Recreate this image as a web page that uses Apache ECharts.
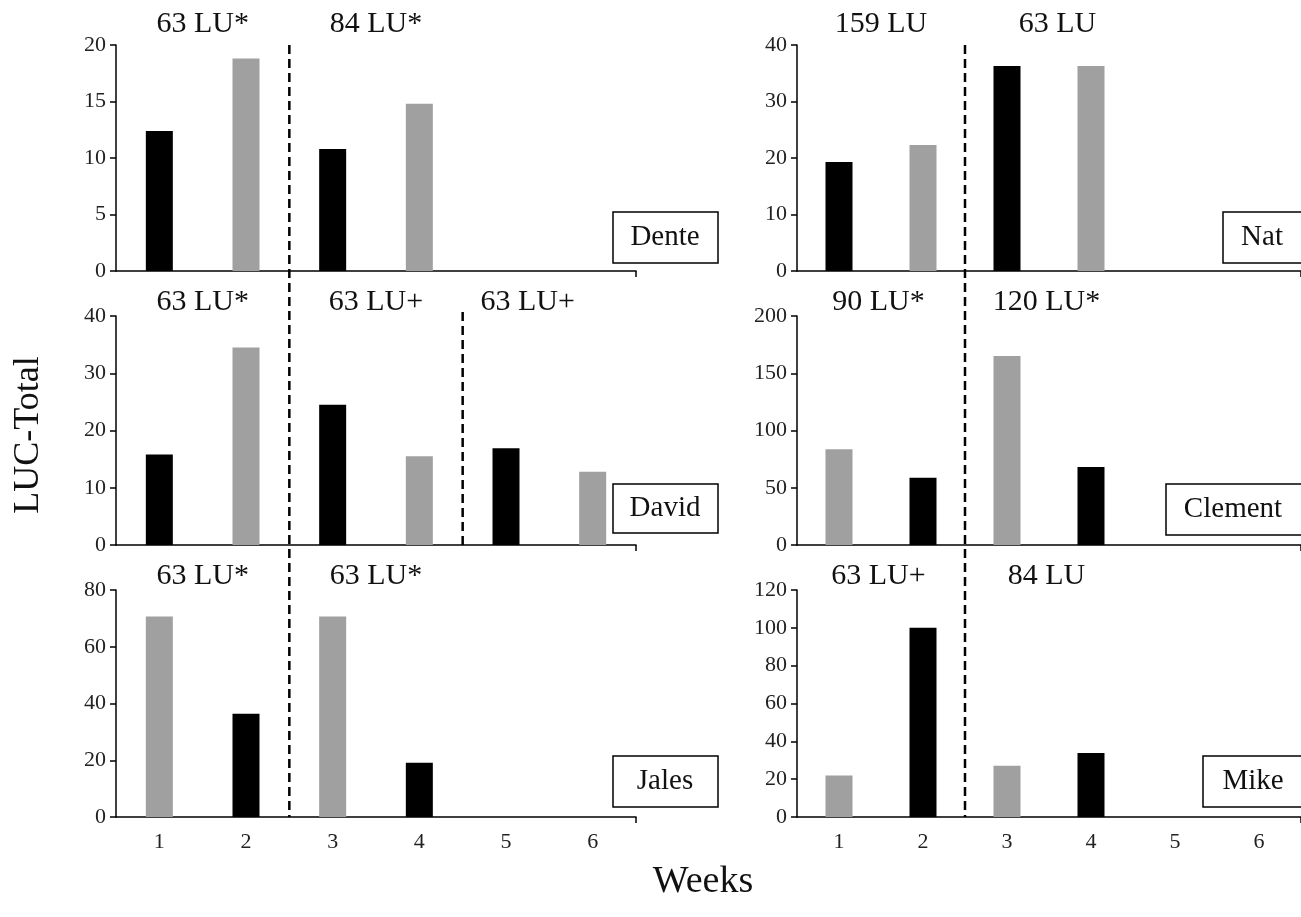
<!DOCTYPE html>
<html>
<head>
<meta charset="utf-8">
<script src="https://cdn.jsdelivr.net/npm/echarts@6/dist/echarts.min.js"></script>
<style>
  html, body { margin: 0; padding: 0; background: #fff; }
  #main { width: 1301px; height: 917px; }
</style>
</head>
<body>
<div id="main"></div>
<script>
// weeks on the x axis
var weeks = ['1', '2', '3', '4', '5', '6'];

// LUC-Total per week, black and grey bars
var denteBlack = [12.4, null, 10.8, null, null, null];
var denteGray = [null, 18.8, null, 14.8, null, null];
var natBlack = [19.3, null, 36.3, null, null, null];
var natGray = [null, 22.3, null, 36.3, null, null];
var davidBlack = [15.8, null, 24.5, null, 16.9, null];
var davidGray = [null, 34.5, null, 15.5, null, 12.8];
var clementBlack = [null, 58.7, null, 68.1, null, null];
var clementGray = [83.6, null, 165, null, null, null];
var jalesBlack = [null, 36.4, null, 19.1, null, null];
var jalesGray = [70.7, null, 70.7, null, null, null];
var mikeBlack = [null, 100, null, 33.8, null, null];
var mikeGray = [21.9, null, 27.1, null, null, null];

// y scales
var yMax = [20, 40, 40, 200, 80, 120];
var yStep = [5, 10, 10, 50, 20, 20];

// dose labels above each panel
var denteDose = ['63 LU*', '84 LU*'];
var natDose = ['159 LU', '63 LU'];
var davidDose = ['63 LU*', '63 LU+', '63 LU+'];
var clementDose = ['90 LU*', '120 LU*'];
var jalesDose = ['63 LU*', '63 LU*'];
var mikeDose = ['63 LU+', '84 LU'];

var names = ['Dente', 'Nat', 'David', 'Clement', 'Jales', 'Mike'];

(function() {
	var FONT = '"Liberation Serif", "Times New Roman", serif';
	var BLACK = '#000000',
		GRAY = '#a0a0a0';

	var panels = [
		{ black: denteBlack, gray: denteGray, dose: denteDose, dosePos: [1.5, 3.5], box: [613, 212, 105, 51], textX: 665 },
		{ black: natBlack, gray: natGray, dose: natDose, dosePos: [1.5, 3.6], box: [1223, 212, 90, 51], textX: 1262 },
		{ black: davidBlack, gray: davidGray, dose: davidDose, dosePos: [1.5, 3.5, 5.25], box: [613, 484, 105, 49], textX: 665 },
		{ black: clementBlack, gray: clementGray, dose: clementDose, dosePos: [1.47, 3.47], box: [1166, 484, 150, 51], textX: 1233 },
		{ black: jalesBlack, gray: jalesGray, dose: jalesDose, dosePos: [1.5, 3.5], box: [613, 756, 105, 51], textX: 665 },
		{ black: mikeBlack, gray: mikeGray, dose: mikeDose, dosePos: [1.47, 3.47], box: [1203, 756, 110, 51], textX: 1253 }
	];

	var grids = [
		{ left: 116, top: 45, width: 520, height: 226 },
		{ left: 797, top: 45, width: 512, height: 226 },
		{ left: 116, top: 316, width: 520, height: 229 },
		{ left: 797, top: 316, width: 512, height: 229 },
		{ left: 116, top: 590, width: 520, height: 227 },
		{ left: 797, top: 590, width: 512, height: 227 }
	];
	var doseOffset = [21, 21, 14, 14, 14, 14];

	var myChart = echarts.init(document.getElementById('main'));

	var xAxes = [], yAxes = [], series = [];
	for (var i = 0; i < 6; i++) {
		xAxes.push({
			type: 'category',
			gridIndex: i,
			data: weeks,
			boundaryGap: true,
			axisLine: { lineStyle: { color: '#000', width: 1.5 } },
			axisTick: { alignWithLabel: true, length: 6, lineStyle: { color: '#000', width: 1.5 } },
			axisLabel: {
				show: i >= 4,
				color: '#222',
				fontFamily: FONT,
				fontSize: 22,
				margin: 14
			},
			splitLine: { show: false }
		});
		yAxes.push({
			type: 'value',
			gridIndex: i,
			min: 0,
			max: yMax[i],
			interval: yStep[i],
			axisLine: { show: true, lineStyle: { color: '#000', width: 1.5 } },
			axisTick: { show: true, length: 6, lineStyle: { color: '#000', width: 1.5 } },
			axisLabel: { color: '#222', fontFamily: FONT, fontSize: 22, margin: 10 },
			splitLine: { show: false }
		});
		series.push({
			type: 'bar',
			xAxisIndex: i,
			yAxisIndex: i,
			data: panels[i].black,
			barWidth: 27,
			barGap: '-100%',
			itemStyle: { color: BLACK },
			silent: true
		});
		series.push({
			type: 'bar',
			xAxisIndex: i,
			yAxisIndex: i,
			data: panels[i].gray,
			barWidth: 27,
			barGap: '-100%',
			itemStyle: { color: GRAY },
			silent: true
		});
	}

	myChart.setOption({
		animation: false,
		backgroundColor: '#fff',
		grid: grids,
		xAxis: xAxes,
		yAxis: yAxes,
		series: series
	});

	// position on / between week categories, through the axis scale
	function weekPx(i, pos) {
		var a = myChart.convertToPixel({ xAxisIndex: i }, weeks[0]);
		var b = myChart.convertToPixel({ xAxisIndex: i }, weeks[1]);
		return a + (pos - 1) * (b - a);
	}
	function valPx(i, v) {
		return myChart.convertToPixel({ yAxisIndex: i }, v);
	}

	var graphic = [];
	for (var i = 0; i < 6; i++) {
		var p = panels[i];
		var yTop = valPx(i, yMax[i]);
		var yZero = valPx(i, 0);
		// dose labels
		for (var d = 0; d < p.dose.length; d++) {
			graphic.push({
				type: 'text',
				x: weekPx(i, p.dosePos[d]),
				y: yTop - doseOffset[i],
				style: {
					text: p.dose[d],
					font: '30px ' + FONT,
					fill: '#111',
					textAlign: 'center',
					textVerticalAlign: 'middle'
				}
			});
		}
		// closing tick at the end of the x axis
		var xe = weekPx(i, 6.5);
		graphic.push({
			type: 'line',
			shape: { x1: xe, y1: yZero, x2: xe, y2: yZero + 6 },
			style: { stroke: '#000', lineWidth: 1.5 }
		});
		// name boxes
		var bx = p.box;
		graphic.push({
			type: 'rect',
			shape: { x: bx[0], y: bx[1], width: bx[2], height: bx[3] },
			style: { fill: '#fff', stroke: '#000', lineWidth: 1.5 }
		});
		graphic.push({
			type: 'text',
			x: p.textX,
			y: bx[1] + bx[3] / 2,
			style: {
				text: names[i],
				font: '29px ' + FONT,
				fill: '#111',
				textAlign: 'center',
				textVerticalAlign: 'middle'
			}
		});
	}

	// dashed week separators: the long one runs through each column
	for (var c = 0; c < 2; c++) {
		var x = weekPx(c, 2.5);
		graphic.push({
			type: 'line',
			shape: { x1: x, y1: valPx(c, yMax[c]), x2: x, y2: valPx(c + 4, 0) },
			style: { stroke: '#000', lineWidth: 2.5, lineDash: [9, 5] }
		});
	}
	// David's second break
	var x2 = weekPx(2, 4.5);
	graphic.push({
		type: 'line',
		shape: { x1: x2, y1: valPx(2, yMax[2]) - 4, x2: x2, y2: valPx(2, 0) },
		style: { stroke: '#000', lineWidth: 2.5, lineDash: [9, 5] }
	});

	// axis titles
	graphic.push({
		type: 'text',
		x: 29,
		y: 435,
		rotation: Math.PI / 2,
		style: {
			text: 'LUC-Total',
			font: '36px ' + FONT,
			fill: '#111',
			textAlign: 'center',
			textVerticalAlign: 'middle'
		}
	});
	graphic.push({
		type: 'text',
		x: 703,
		y: 882,
		style: {
			text: 'Weeks',
			font: '38px ' + FONT,
			fill: '#111',
			textAlign: 'center',
			textVerticalAlign: 'middle'
		}
	});

	myChart.setOption({ graphic: graphic });
})();
</script>
</body>
</html>
